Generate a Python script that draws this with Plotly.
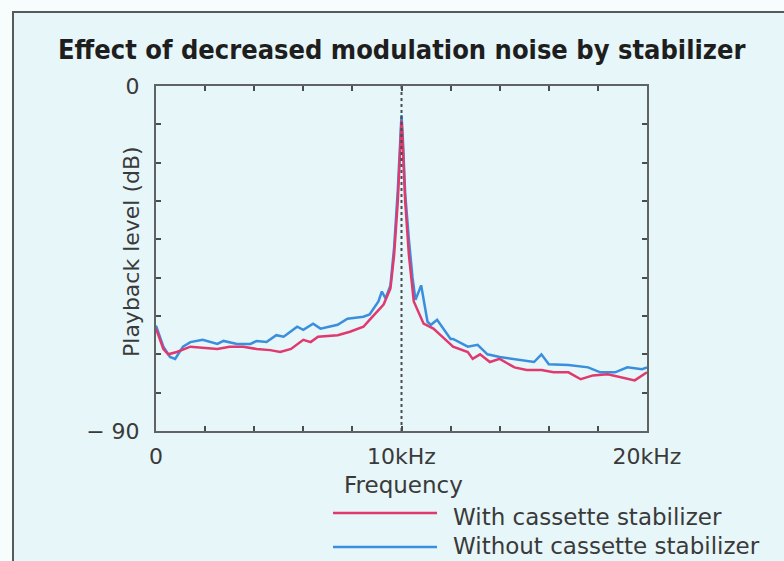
import plotly.graph_objects as go

# ---- data ----
freq_with = [0, 0.3, 0.5, 0.85, 1.4, 1.9, 2.5, 3.0, 3.55, 4.1, 4.65, 5.06, 5.5, 6.0, 6.3, 6.6,
             7.4, 7.9, 8.45, 8.7, 9.0, 9.27, 9.55, 9.7, 9.85, 9.95, 10.0, 10.05, 10.15, 10.3,
             10.5, 10.9, 11.3, 11.9, 12.1, 12.7, 12.9, 13.2, 13.6, 14.0, 14.6, 15.1, 15.7,
             16.2, 16.8, 17.3, 17.8, 18.4, 18.9, 19.5, 20.0]
db_with = [-63.3, -68.6, -70.0, -69.4, -68.0, -68.3, -68.6, -68.0, -68.0, -68.6, -68.9, -69.4,
           -68.6, -66.2, -66.8, -65.4, -65.0, -64.1, -62.8, -61.0, -58.8, -57.0, -52.8, -44.0,
           -30.0, -16.0, -9.0, -15.0, -30.0, -44.0, -56.2, -62.0, -63.3, -66.8, -68.0, -69.4,
           -71.2, -70.0, -72.0, -71.2, -73.4, -74.1, -74.1, -74.7, -74.7, -76.5, -75.5, -75.2,
           -76.0, -76.8, -74.7]

freq_without = [0, 0.3, 0.57, 0.78, 1.1, 1.4, 1.9, 2.5, 2.75, 3.3, 3.85, 4.1, 4.5, 4.9, 5.2,
                5.75, 6.0, 6.4, 6.7, 7.4, 7.8, 8.45, 8.7, 9.06, 9.2, 9.35, 9.55, 9.7, 9.85,
                9.95, 10.0, 10.05, 10.15, 10.3, 10.45, 10.57, 10.8, 11.06, 11.2, 11.45, 12.0,
                12.1, 12.7, 13.1, 13.5, 14.0, 14.9, 15.4, 15.7, 16.0, 16.8, 17.6, 18.1, 18.7,
                19.2, 19.8, 20.0]
db_without = [-62.5, -68.0, -70.7, -71.2, -68.0, -66.8, -66.2, -67.3, -66.5, -67.3, -67.3, -66.5,
              -66.8, -65.0, -65.4, -62.8, -63.6, -62.0, -63.3, -62.3, -60.7, -60.2, -59.6, -56.2,
              -53.6, -55.4, -52.0, -42.0, -27.0, -14.0, -7.6, -13.0, -28.0, -40.0, -50.0, -55.8,
              -52.0, -61.5, -62.3, -61.0, -66.0, -66.0, -68.0, -67.5, -70.0, -70.7, -71.5, -72.0,
              -70.0, -72.6, -72.8, -73.4, -74.7, -74.7, -73.4, -73.9, -73.4]

x_tickvals = [0, 2, 4, 6, 8, 10, 12, 14, 16, 18, 20]
x_ticktext = ["0", "", "", "", "", "10kHz", "", "", "", "", "20kHz"]
y_tickvals = [0, -10, -20, -30, -40, -50, -60, -70, -80, -90]
y_ticktext = ["0", "", "", "", "", "", "", "", "", "\u2212 90"]

series_names = ["With cassette stabilizer", "Without cassette stabilizer"]
RED = "#e0396e"
BLUE = "#3a8ede"

TEXT_FONT = "DejaVu Sans, Liberation Sans, sans-serif"
TITLE_FONT = "DejaVu Sans Condensed, DejaVu Sans, sans-serif"
BG = "#e7f6f8"

# plot area geometry (px)
W, H = 784, 561
L, R, T, B = 156, 647, 86, 431
pw, ph = R - L, B - T


def px(x):
    return (x - L) / pw


def py(y):
    return (B - y) / ph


fig = go.Figure()
fig.add_trace(go.Scatter(x=freq_without, y=db_without, mode="lines", name=series_names[1],
                         line=dict(color=BLUE, width=2.5), showlegend=False))
fig.add_trace(go.Scatter(x=freq_with, y=db_with, mode="lines", name=series_names[0],
                         line=dict(color=RED, width=2.5), showlegend=False))

axis_common = dict(showgrid=False, zeroline=False, showline=True, linecolor="#5f6364",
                   linewidth=2, mirror="ticks", ticks="inside", ticklen=5, tickwidth=2,
                   tickcolor="#4a4d4e",
                   tickfont=dict(family=TEXT_FONT, size=22, color="#3a3a3a"))

fig.update_xaxes(range=[0, 20], tickvals=x_tickvals, ticktext=x_ticktext,
                 ticklabelstandoff=5, **axis_common)
fig.update_yaxes(range=[-90, 0], tickvals=y_tickvals, ticktext=y_ticktext,
                 ticklabelstandoff=10, **axis_common)

shapes = [
    # outer frame
    dict(type="rect", xref="paper", yref="paper", x0=px(13), x1=px(800), y0=py(580), y1=py(12),
         line=dict(color="#555a5c", width=2), fillcolor=BG, layer="below"),
    # dotted line at 10 kHz
    dict(type="line", xref="x", yref="paper", x0=10, x1=10, y0=0, y1=1,
         line=dict(color="#4a4d4e", width=2, dash="dot")),
    # legend samples
    dict(type="line", xref="paper", yref="paper", x0=px(333), x1=px(437), y0=py(513), y1=py(513),
         line=dict(color=RED, width=2.5)),
    dict(type="line", xref="paper", yref="paper", x0=px(333), x1=px(437), y0=py(547), y1=py(547),
         line=dict(color=BLUE, width=2.5)),
]

annotations = [
    dict(text="Effect of decreased modulation noise by stabilizer", xref="paper",
         yref="paper", x=px(401), y=py(50), xanchor="center", yanchor="middle", showarrow=False,
         font=dict(family=TITLE_FONT, size=27, color="#1e1e1e", weight=700)),
    dict(text="Playback level (dB)", xref="paper", yref="paper", x=px(131), y=py(252),
         xanchor="center", yanchor="middle", textangle=-90, showarrow=False,
         font=dict(family=TEXT_FONT, size=22, color="#3a3a3a")),
    dict(text="Frequency", xref="paper", yref="paper", x=px(403), y=py(485),
         xanchor="center", yanchor="middle", showarrow=False,
         font=dict(family=TEXT_FONT, size=23, color="#3a3a3a")),
    dict(text=series_names[0], xref="paper", yref="paper", x=px(451), y=py(517),
         xanchor="left", yanchor="middle", showarrow=False,
         font=dict(family=TEXT_FONT, size=23, color="#3a3a3a")),
    dict(text=series_names[1], xref="paper", yref="paper", x=px(451), y=py(546),
         xanchor="left", yanchor="middle", showarrow=False,
         font=dict(family=TEXT_FONT, size=23, color="#3a3a3a")),
]

fig.update_layout(
    width=W, height=H,
    margin=dict(l=L, r=W - R, t=T, b=H - B, autoexpand=False),
    paper_bgcolor="#f7fcfd", plot_bgcolor="rgba(0,0,0,0)",
    shapes=shapes, annotations=annotations, showlegend=False,
)

fig.write_html("out.html")
